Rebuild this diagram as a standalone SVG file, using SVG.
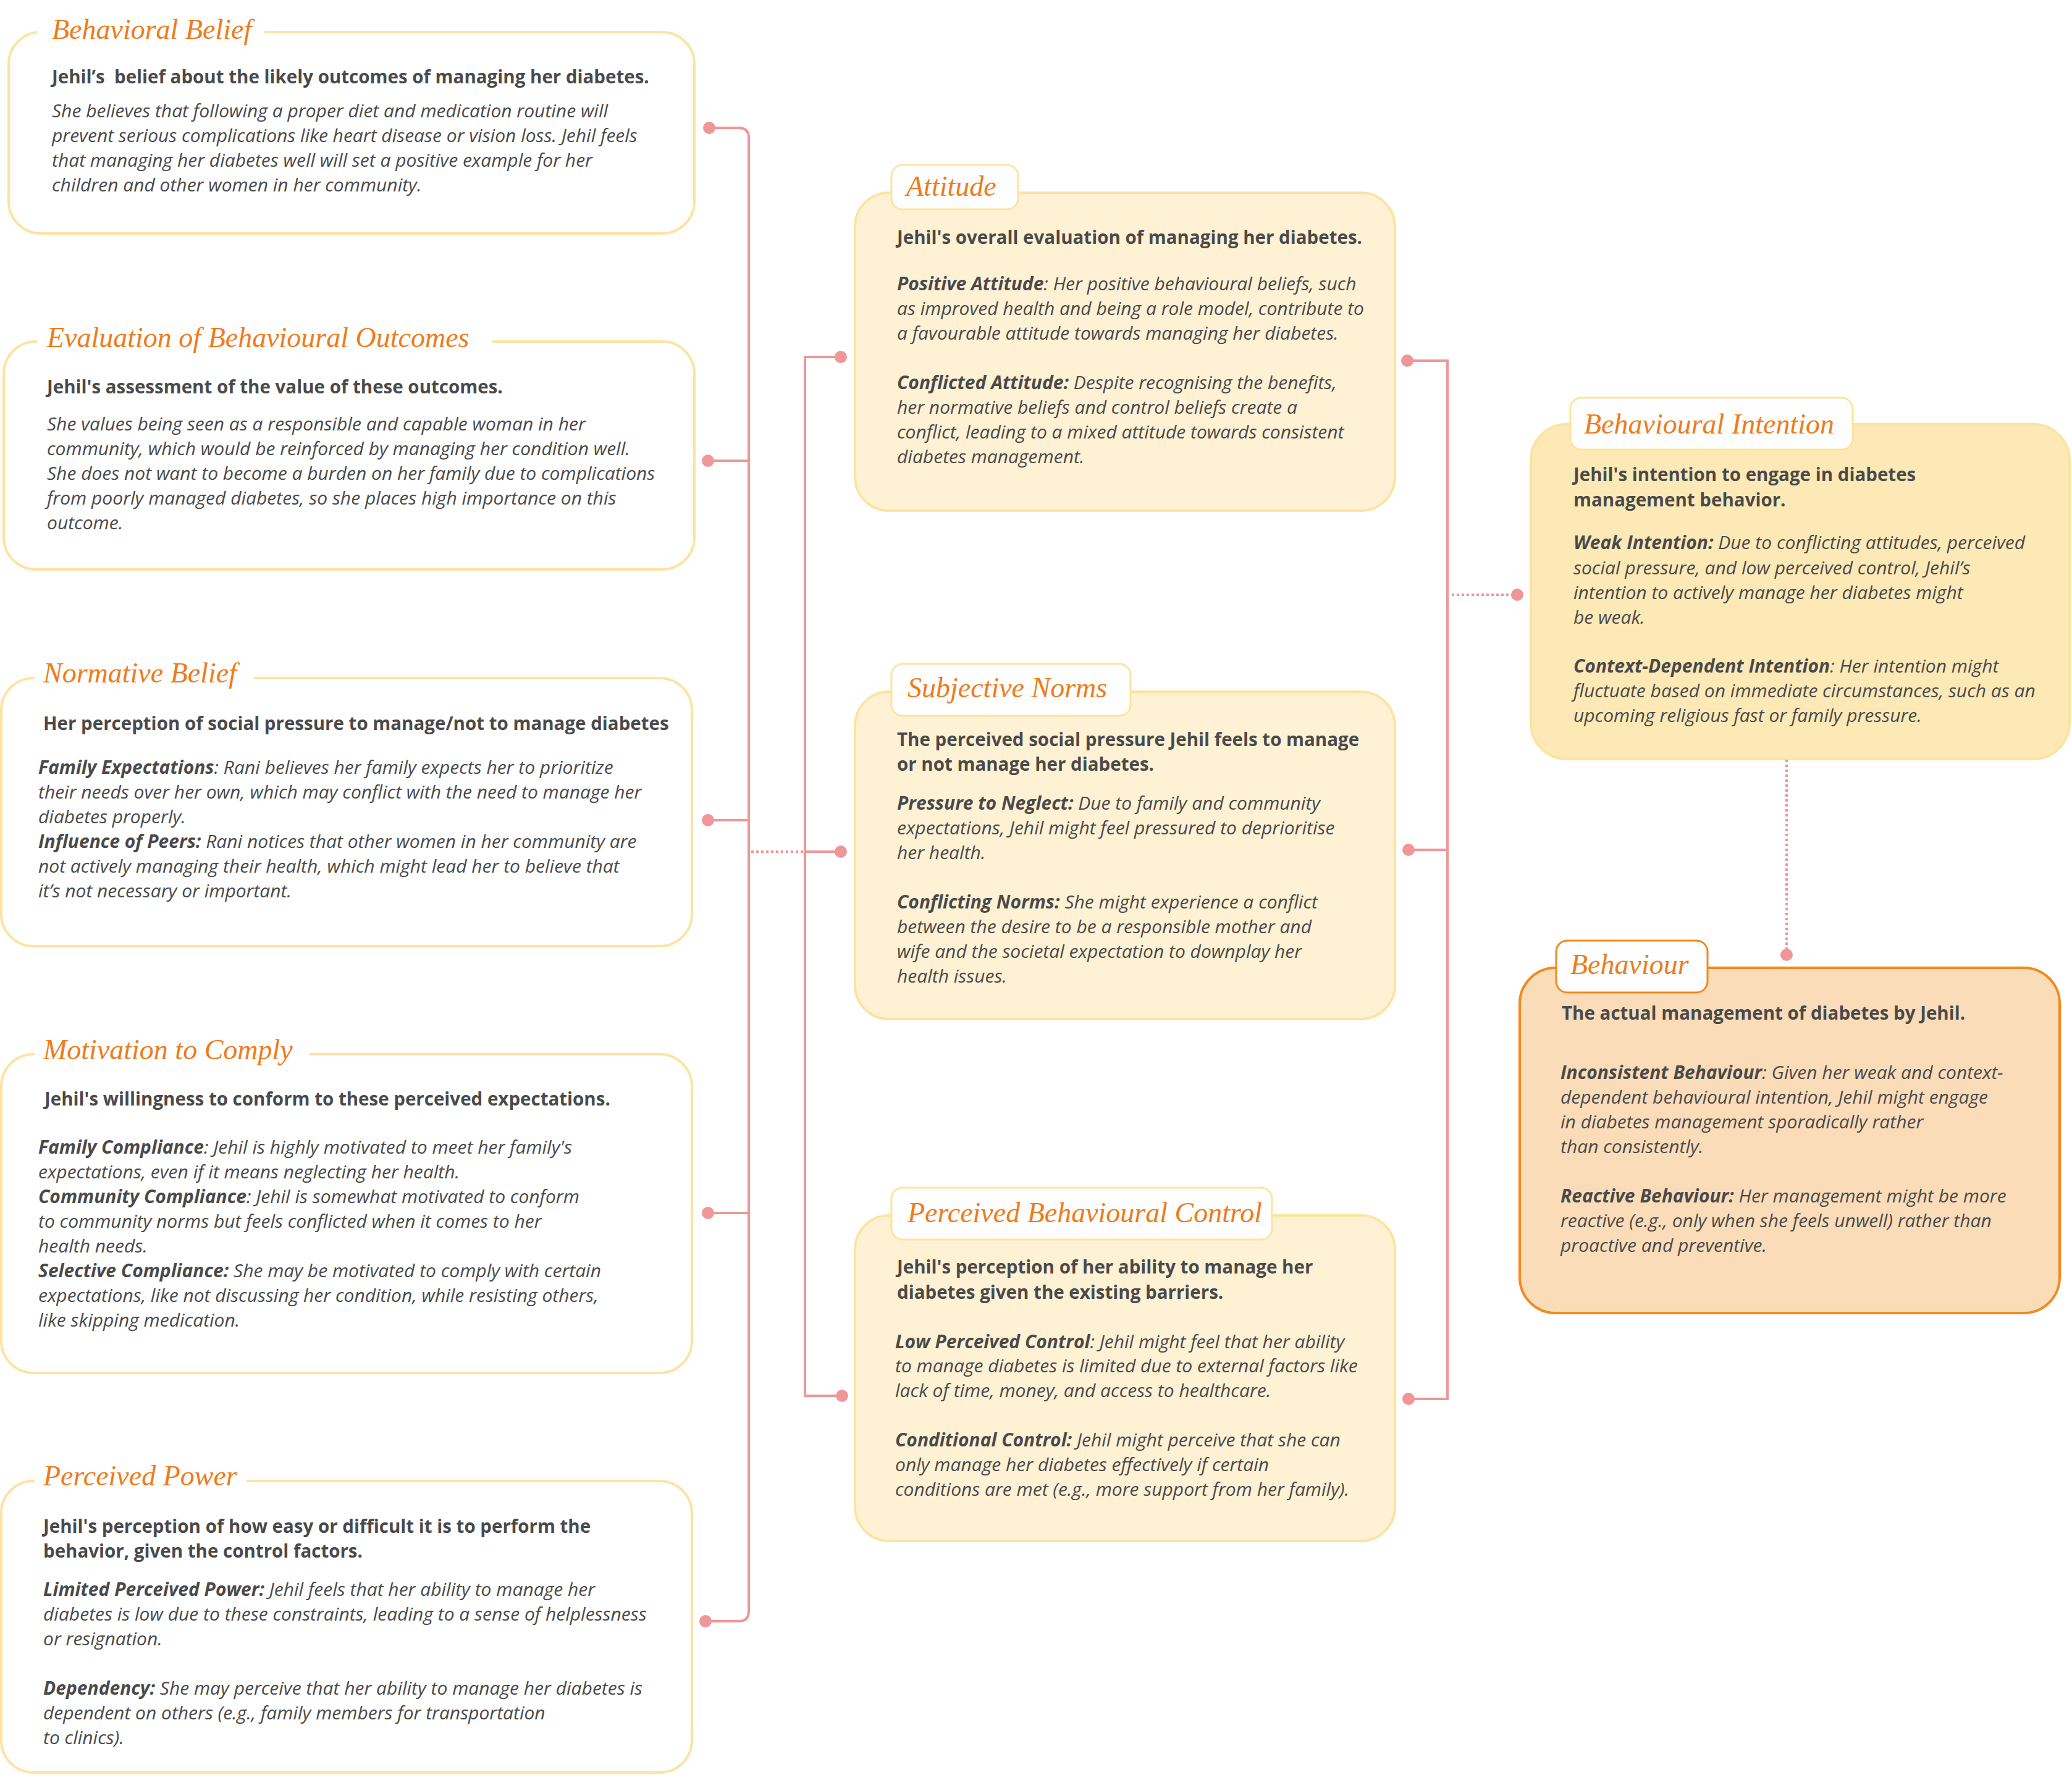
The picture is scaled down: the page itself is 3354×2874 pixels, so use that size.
<svg xmlns="http://www.w3.org/2000/svg" width="3354" height="2874" viewBox="0 0 3354 2874">
<style>
.box{fill:#ffffff;stroke:#fde3a0;stroke-width:4}
.mbox{fill:#fef1d4;stroke:#fde39f;stroke-width:4}
.bibox{fill:#fde9b6;stroke:#fde39f;stroke-width:4}
.bhbox{fill:#fbdcb9;stroke:#f28a1e;stroke-width:4}
.tab{fill:#fdfefd;stroke:#fde39f;stroke-width:3}
.tabo{fill:#fdfefd;stroke:#f28a1e;stroke-width:3}
.gap{fill:#ffffff}
.title{font-family:"Liberation Serif",serif;font-style:italic;font-size:46px;fill:#ef7b1b}
.hd{font-family:"Open Sans","Liberation Sans",sans-serif;font-weight:700;font-size:29.5px;fill:#4a4a4a}
.it{font-family:"Open Sans","Liberation Sans",sans-serif;font-style:italic;font-size:30px;fill:#4a4a4a}
.lb{font-weight:700}
.con{fill:none;stroke:#f09698;stroke-width:4}
.dash{stroke-dasharray:4 4}
.dot{fill:#f09698}
</style>
<rect width="3354" height="2874" fill="#ffffff"/>

<g id="behavioral-belief">
<rect class="box" x="14" y="52" width="1110" height="326" rx="52"/>
<rect class="gap" x="60" y="10" width="368" height="80"/>
<text class="title" x="84" y="63">Behavioral Belief</text>
<text class="hd" x="84" y="135">Jehil’s&#160; belief about the likely outcomes of managing her diabetes.</text>
<text class="it" x="84" y="190">She believes that following a proper diet and medication routine will</text>
<text class="it" x="84" y="230">prevent serious complications like heart disease or vision loss. Jehil feels</text>
<text class="it" x="84" y="270">that managing her diabetes well will set a positive example for her</text>
<text class="it" x="84" y="310">children and other women in her community.</text>
</g>

<g id="evaluation-outcomes">
<rect class="box" x="6" y="553" width="1118" height="369" rx="52"/>
<rect class="gap" x="60" y="512" width="737" height="80"/>
<text class="title" x="76" y="562">Evaluation of Behavioural Outcomes</text>
<text class="hd" x="76" y="637">Jehil's assessment of the value of these outcomes.</text>
<text class="it" x="76" y="697">She values being seen as a responsible and capable woman in her</text>
<text class="it" x="76" y="737">community, which would be reinforced by managing her condition well.</text>
<text class="it" x="76" y="777">She does not want to become a burden on her family due to complications</text>
<text class="it" x="76" y="817">from poorly managed diabetes, so she places high importance on this</text>
<text class="it" x="76" y="857">outcome.</text>
</g>

<g id="normative-belief">
<rect class="box" x="2" y="1098" width="1118" height="434" rx="52"/>
<rect class="gap" x="56" y="1057" width="355" height="80"/>
<text class="title" x="70" y="1105">Normative Belief</text>
<text class="hd" x="70" y="1182">Her perception of social pressure to manage/not to manage diabetes</text>
<text class="it" x="62" y="1253"><tspan class="lb">Family Expectations</tspan>: Rani believes her family expects her to prioritize</text>
<text class="it" x="62" y="1293">their needs over her own, which may conflict with the need to manage her</text>
<text class="it" x="62" y="1333">diabetes properly.</text>
<text class="it" x="62" y="1373"><tspan class="lb">Influence of Peers:</tspan> Rani notices that other women in her community are</text>
<text class="it" x="62" y="1413">not actively managing their health, which might lead her to believe that</text>
<text class="it" x="62" y="1453">it’s not necessary or important.</text>
</g>

<g id="motivation-to-comply">
<rect class="box" x="2" y="1707" width="1118" height="516" rx="52"/>
<rect class="gap" x="56" y="1668" width="445" height="78"/>
<text class="title" x="70" y="1715">Motivation to Comply</text>
<text class="hd" x="72" y="1790">Jehil's willingness to conform to these perceived expectations.</text>
<text class="it" x="62" y="1868"><tspan class="lb">Family Compliance</tspan>: Jehil is highly motivated to meet her family's</text>
<text class="it" x="62" y="1908">expectations, even if it means neglecting her health.</text>
<text class="it" x="62" y="1948"><tspan class="lb">Community Compliance</tspan>: Jehil is somewhat motivated to conform</text>
<text class="it" x="62" y="1988">to community norms but feels conflicted when it comes to her</text>
<text class="it" x="62" y="2028">health needs.</text>
<text class="it" x="62" y="2068"><tspan class="lb">Selective Compliance:</tspan> She may be motivated to comply with certain</text>
<text class="it" x="62" y="2108">expectations, like not discussing her condition, while resisting others,</text>
<text class="it" x="62" y="2148">like skipping medication.</text>
</g>

<g id="perceived-power">
<rect class="box" x="2" y="2398" width="1118" height="472" rx="52"/>
<rect class="gap" x="56" y="2357" width="343" height="78"/>
<text class="title" x="70" y="2405">Perceived Power</text>
<text class="hd" x="70" y="2482">Jehil's perception of how easy or difficult it is to perform the</text>
<text class="hd" x="70" y="2522">behavior, given the control factors.</text>
<text class="it" x="70" y="2584"><tspan class="lb">Limited Perceived Power:</tspan> Jehil feels that her ability to manage her</text>
<text class="it" x="70" y="2624">diabetes is low due to these constraints, leading to a sense of helplessness</text>
<text class="it" x="70" y="2664">or resignation.</text>
<text class="it" x="70" y="2744"><tspan class="lb">Dependency:</tspan> She may perceive that her ability to manage her diabetes is</text>
<text class="it" x="70" y="2784">dependent on others (e.g., family members for transportation</text>
<text class="it" x="70" y="2824">to clinics).</text>
</g>

<g id="attitude">
<rect class="mbox" x="1384" y="312" width="874" height="515" rx="55"/>
<rect class="tab" x="1443" y="267" width="205" height="72" rx="18"/>
<text class="title" x="1467" y="317">Attitude</text>
<text class="hd" x="1452" y="395">Jehil's overall evaluation of managing her diabetes.</text>
<text class="it" x="1452" y="470"><tspan class="lb">Positive Attitude</tspan>: Her positive behavioural beliefs, such</text>
<text class="it" x="1452" y="510">as improved health and being a role model, contribute to</text>
<text class="it" x="1452" y="550">a favourable attitude towards managing her diabetes.</text>
<text class="it" x="1452" y="630"><tspan class="lb">Conflicted Attitude:</tspan> Despite recognising the benefits,</text>
<text class="it" x="1452" y="670">her normative beliefs and control beliefs create a</text>
<text class="it" x="1452" y="710">conflict, leading to a mixed attitude towards consistent</text>
<text class="it" x="1452" y="750">diabetes management.</text>
</g>

<g id="subjective-norms">
<rect class="mbox" x="1384" y="1120" width="874" height="530" rx="55"/>
<rect class="tab" x="1443" y="1075" width="387" height="84" rx="18"/>
<text class="title" x="1469" y="1129">Subjective Norms</text>
<text class="hd" x="1452" y="1208">The perceived social pressure Jehil feels to manage</text>
<text class="hd" x="1452" y="1248">or not manage her diabetes.</text>
<text class="it" x="1452" y="1311"><tspan class="lb">Pressure to Neglect:</tspan> Due to family and community</text>
<text class="it" x="1452" y="1351">expectations, Jehil might feel pressured to deprioritise</text>
<text class="it" x="1452" y="1391">her health.</text>
<text class="it" x="1452" y="1471"><tspan class="lb">Conflicting Norms:</tspan> She might experience a conflict</text>
<text class="it" x="1452" y="1511">between the desire to be a responsible mother and</text>
<text class="it" x="1452" y="1551">wife and the societal expectation to downplay her</text>
<text class="it" x="1452" y="1591">health issues.</text>
</g>

<g id="perceived-behavioural-control">
<rect class="mbox" x="1384" y="1968" width="874" height="527" rx="55"/>
<rect class="tab" x="1443" y="1923" width="616" height="84" rx="18"/>
<text class="title" x="1469" y="1979">Perceived Behavioural Control</text>
<text class="hd" x="1452" y="2062">Jehil's perception of her ability to manage her</text>
<text class="hd" x="1452" y="2103">diabetes given the existing barriers.</text>
<text class="it" x="1449" y="2183"><tspan class="lb">Low Perceived Control</tspan>: Jehil might feel that her ability</text>
<text class="it" x="1449" y="2222">to manage diabetes is limited due to external factors like</text>
<text class="it" x="1449" y="2262">lack of time, money, and access to healthcare.</text>
<text class="it" x="1449" y="2342"><tspan class="lb">Conditional Control:</tspan> Jehil might perceive that she can</text>
<text class="it" x="1449" y="2382">only manage her diabetes effectively if certain</text>
<text class="it" x="1449" y="2422">conditions are met (e.g., more support from her family).</text>
</g>

<g id="behavioural-intention">
<rect class="bibox" x="2478" y="687" width="872" height="542" rx="58"/>
<rect class="tab" x="2542" y="644" width="457" height="84" rx="18"/>
<text class="title" x="2564" y="702">Behavioural Intention</text>
<text class="hd" x="2547" y="779">Jehil's intention to engage in diabetes</text>
<text class="hd" x="2547" y="820">management behavior.</text>
<text class="it" x="2547" y="889"><tspan class="lb">Weak Intention:</tspan> Due to conflicting attitudes, perceived</text>
<text class="it" x="2547" y="930">social pressure, and low perceived control, Jehil’s</text>
<text class="it" x="2547" y="970">intention to actively manage her diabetes might</text>
<text class="it" x="2547" y="1010">be weak.</text>
<text class="it" x="2547" y="1089"><tspan class="lb">Context-Dependent Intention</tspan>: Her intention might</text>
<text class="it" x="2547" y="1129">fluctuate based on immediate circumstances, such as an</text>
<text class="it" x="2547" y="1169">upcoming religious fast or family pressure.</text>
</g>

<g id="behaviour">
<rect class="bhbox" x="2460" y="1567" width="874" height="559" rx="58"/>
<rect class="tabo" x="2519" y="1523" width="245" height="84" rx="18"/>
<text class="title" x="2542" y="1577">Behaviour</text>
<text class="hd" x="2528" y="1651">The actual management of diabetes by Jehil.</text>
<text class="it" x="2526" y="1747"><tspan class="lb">Inconsistent Behaviour</tspan>: Given her weak and context-</text>
<text class="it" x="2526" y="1787">dependent behavioural intention, Jehil might engage</text>
<text class="it" x="2526" y="1827">in diabetes management sporadically rather</text>
<text class="it" x="2526" y="1867">than consistently.</text>
<text class="it" x="2526" y="1947"><tspan class="lb">Reactive Behaviour:</tspan> Her management might be more</text>
<text class="it" x="2526" y="1987">reactive (e.g., only when she feels unwell) rather than</text>
<text class="it" x="2526" y="2027">proactive and preventive.</text>
</g>

<g id="connectors">
<path class="con" d="M1148 207 H1196 Q1212 207 1212 223 V2609 Q1212 2625 1196 2625 H1142"/>
<path class="con" d="M1146 746 H1212 M1146 1328 H1212 M1146 1964 H1212"/>
<path class="con dash" d="M1216 1379 H1303"/>
<path class="con" d="M1361 578 H1303 V2260 H1363 M1303 1379 H1361"/>
<path class="con" d="M2278 584 H2343 V2265 H2280 M2280 1376 H2343"/>
<path class="con dash" d="M2350 963 H2456"/>
<path class="con dash" d="M2892 1230 V1546"/>
<circle class="dot" cx="1148" cy="207" r="10"/>
<circle class="dot" cx="1146" cy="746" r="10"/>
<circle class="dot" cx="1146" cy="1328" r="10"/>
<circle class="dot" cx="1146" cy="1964" r="10"/>
<circle class="dot" cx="1142" cy="2625" r="10"/>
<circle class="dot" cx="1361" cy="578" r="10"/>
<circle class="dot" cx="1361" cy="1379" r="10"/>
<circle class="dot" cx="1363" cy="2260" r="10"/>
<circle class="dot" cx="2278" cy="584" r="10"/>
<circle class="dot" cx="2280" cy="1376" r="10"/>
<circle class="dot" cx="2280" cy="2265" r="10"/>
<circle class="dot" cx="2456" cy="963" r="10"/>
<circle class="dot" cx="2892" cy="1546" r="10"/>
</g>
</svg>
